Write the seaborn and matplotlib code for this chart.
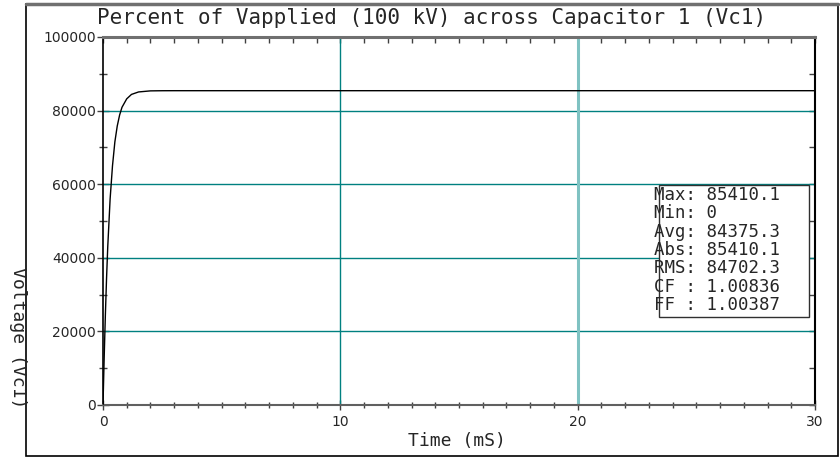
import numpy as np
import pandas as pd
import matplotlib
matplotlib.use("Agg")
import matplotlib.pyplot as plt
import seaborn as sns
from matplotlib.ticker import MultipleLocator, NullFormatter
from matplotlib.patches import Rectangle

# ---- data ----
time_ms = [0, 0.05, 0.1, 0.15, 0.2, 0.3, 0.4, 0.5, 0.6, 0.7, 0.8, 1.0, 1.2,
           1.5, 2.0, 2.5, 3.0, 30]
vc1 = [0, 13000, 24500, 34500, 43000, 56000, 65000, 71500, 75800, 78800,
       80900, 83200, 84400, 85070, 85360, 85400, 85410, 85410]
stats_labels = ["Max:", "Min:", "Avg:", "Abs:", "RMS:", "CF :", "FF :"]
stats_values = ["85410.1", "0", "84375.3", "85410.1", "84702.3", "1.00836", "1.00387"]
title = "Percent of Vapplied (100 kV) across Capacitor 1 (Vc1)"
xlabel = "Time (mS)"
ylabel = "Voltage (Vc1)"

df = pd.DataFrame({"t": time_ms, "v": vc1})

sns.set_style("white")
plt.rcParams["font.family"] = ["DejaVu Sans"]
W, H = 840, 457
fig = plt.figure(figsize=(8.4, 4.57), dpi=100)

def fx(px):
    return px / W

def fy(py):
    return 1 - py / H

# outer frame
frame = Rectangle((fx(26), fy(456)), fx(838) - fx(26), fy(4) - fy(456),
                  transform=fig.transFigure, fill=False, edgecolor="#000000",
                  linewidth=1.2, zorder=0)
fig.patches.append(frame)
fig.add_artist(plt.Line2D([fx(26), fx(838)], [fy(4), fy(4)], transform=fig.transFigure,
                          color="#707070", linewidth=2.5))

ax = fig.add_axes([fx(103), fy(405), fx(815) - fx(103), fy(37) - fy(405)])
ax.set_xlim(0, 30)
ax.set_ylim(0, 100000)

# grid lines
for yv in [20000, 40000, 60000, 80000]:
    ax.axhline(yv, color="#008080", linewidth=1.0, zorder=1)
ax.axvline(10, color="#008080", linewidth=1.0, zorder=1)
ax.axvline(20, color="#7fc2c2", linewidth=2.2, zorder=1)

sns.lineplot(data=df, x="t", y="v", ax=ax, color="black", linewidth=1.0,
             zorder=3, legend=False)

ax.set_xlabel("")
ax.set_ylabel("")

# spines
ax.spines["left"].set_color("black")
ax.spines["left"].set_linewidth(1.2)
ax.spines["right"].set_color("black")
ax.spines["right"].set_linewidth(1.5)
ax.spines["bottom"].set_color("#606060")
ax.spines["bottom"].set_linewidth(1.5)
ax.spines["top"].set_color("#707070")
ax.spines["top"].set_linewidth(2.2)
for s in ax.spines.values():
    s.set_visible(True)

ax.xaxis.set_major_locator(MultipleLocator(10))
ax.xaxis.set_minor_locator(MultipleLocator(1))
ax.yaxis.set_major_locator(MultipleLocator(20000))
ax.yaxis.set_minor_locator(MultipleLocator(10000))

ax.tick_params(axis="x", which="both", direction="inout", bottom=True, top=False,
               color="#404040", labelsize=10, pad=4)
ax.tick_params(axis="x", which="major", length=7, width=1)
ax.tick_params(axis="x", which="minor", length=5, width=1)
ax.tick_params(axis="y", which="both", direction="inout", left=True, right=False,
               color="#404040", labelsize=10, pad=1)
ax.tick_params(axis="y", which="major", length=8, width=1)
ax.tick_params(axis="y", which="minor", length=6, width=1)

# inward ticks on top and right edges
top = ax.secondary_xaxis("top")
top.xaxis.set_major_locator(MultipleLocator(1))
top.xaxis.set_major_formatter(NullFormatter())
top.tick_params(direction="in", length=4, width=1, color="#404040")
top.spines["top"].set_visible(False)
right = ax.secondary_yaxis("right")
right.yaxis.set_major_locator(MultipleLocator(10000))
right.yaxis.set_major_formatter(NullFormatter())
right.tick_params(direction="in", length=4, width=1, color="#404040")
right.spines["right"].set_visible(False)

# title & axis labels
mono = "DejaVu Sans Mono"
fig.text(fx(432), fy(18), title, family=mono, fontsize=15, ha="center", va="center")
fig.text(fx(457), fy(441), xlabel, family=mono, fontsize=13, ha="center", va="center")
fig.text(fx(18), fy(338), ylabel, family=mono, fontsize=13, ha="center", va="center",
         rotation=-90)

# stats box
box = Rectangle((fx(659), fy(317)), fx(809) - fx(659), fy(185) - fy(317),
                transform=fig.transFigure, fill=True, facecolor="white",
                edgecolor="#303030", linewidth=1.0, zorder=4)
fig.patches.append(box)
for i, (lab, val) in enumerate(zip(stats_labels, stats_values)):
    fig.text(fx(654), fy(195 + i * 18.3), f"{lab} {val}", family=mono, fontsize=12.5,
             ha="left", va="center", zorder=5)

fig.savefig("out.png", dpi=100)
